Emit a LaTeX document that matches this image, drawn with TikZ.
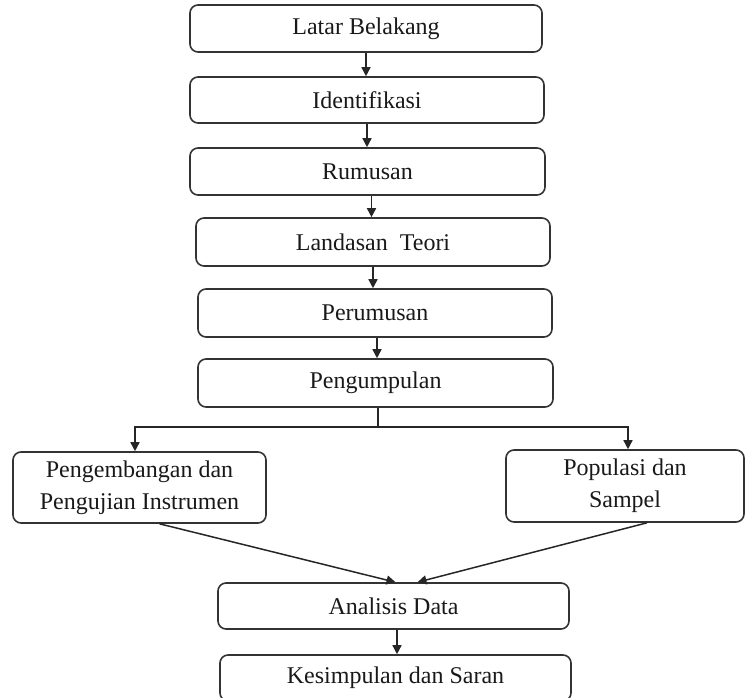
\documentclass[tikz,border=0pt]{standalone}
\usepackage{fontspec}
\setmainfont{Liberation Serif}
\usetikzlibrary{arrows.meta}
\begin{document}
\begin{tikzpicture}[x=1pt, y=-1pt,
  box/.style={draw=black!80, line width=1.6pt, rounded corners=8pt, align=center,
    inner sep=0pt, text=black!90, font=\fontsize{24}{32}\selectfont},
  arr/.style={draw=black!85, line width=1.5pt, -{Triangle[length=9pt,width=9pt]}}]
\clip (0,0) rectangle (745,697);
\node[box, minimum width=352, minimum height=47] (latar) at (366,28.5){Latar Belakang};
\node[box, minimum width=354, minimum height=46] (ident) at (367,100){Identifikasi};
\node[box, minimum width=355, minimum height=47] (rumus) at (367.5,171.5){Rumusan};
\node[box, minimum width=354, minimum height=48] (landas) at (373,242){Landasan\ \ Teori};
\node[box, minimum width=354, minimum height=48] (perumus) at (375,313){Perumusan};
\node[box, minimum width=355, minimum height=48] (kumpul) at (375.5,383){Pengumpulan};
\node[box, minimum width=253, minimum height=71] (instrumen) at (139.5,487.5){Pengembangan dan\\Pengujian Instrumen};
\node[box, minimum width=238, minimum height=72] (populasi) at (625,486){Populasi dan\\Sampel};
\node[box, minimum width=351, minimum height=46] (analisis) at (393.5,606){Analisis Data};
\node[box, minimum width=351, minimum height=46] (simpul) at (395.5,678){Kesimpulan dan Saran};
\draw[arr] (latar.south) -- (latar.south |- ident.north);
\draw[arr] (ident.south) -- (ident.south |- rumus.north);
\draw[arr] ([xshift=4pt]rumus.south) -- ([xshift=4pt]rumus.south |- landas.north);
\draw[arr] (landas.south) -- (landas.south |- perumus.north);
\draw[arr] ([xshift=2pt]perumus.south) -- ([xshift=2pt]perumus.south |- kumpul.north);
\draw[draw=black!85, line width=1.5pt] ([xshift=2.5pt]kumpul.south) -- ++(0,19) coordinate (cabang);
\draw[arr] (cabang) -| ([xshift=-4.5pt]instrumen.north);
\draw[arr] (cabang) -| ([xshift=3pt]populasi.north);
\draw[arr] ([xshift=20pt]instrumen.south) -- ([xshift=2pt]analisis.north);
\draw[arr] ([xshift=22pt]populasi.south) -- ([xshift=24pt]analisis.north);
\draw[arr] ([xshift=3.5pt]analisis.south) -- ([xshift=3.5pt]analisis.south |- simpul.north);
\end{tikzpicture}
\end{document}
